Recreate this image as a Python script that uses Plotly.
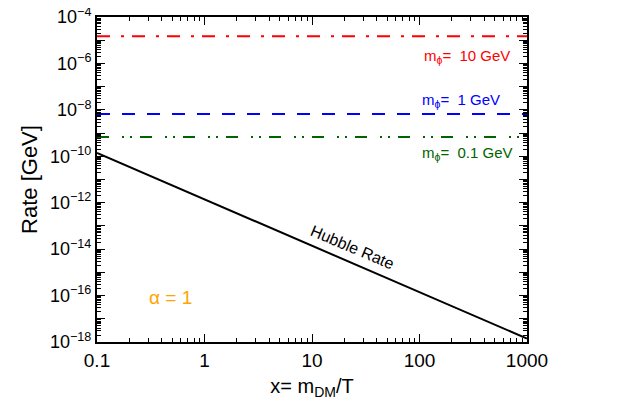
import plotly.graph_objects as go

x_const = [0.1, 1000]
rate_10GeV = [1.5e-5, 1.5e-5]
rate_1GeV = [6.6e-9, 6.6e-9]
rate_01GeV = [6.7e-10, 6.7e-10]
x_hubble = [0.1, 1, 10, 100, 1000]
rate_hubble = [1.4e-10, 1.4e-12, 1.4e-14, 1.4e-16, 1.4e-18]

x_tickvals = [0.1, 1, 10, 100, 1000]
x_ticktext = ["0.1", "1", "10", "100", "1000"]
y_exponents = list(range(-18, -3))
y_tickvals = [10.0 ** e for e in y_exponents]
y_ticktext = [f"10<sup>−{-e}</sup>" if e % 2 == 0 else "" for e in y_exponents]

x_minor = [m * 10.0 ** e for e in range(-1, 3) for m in range(2, 10)]
y_minor = [m * 10.0 ** e for e in range(-18, -4) for m in range(2, 10)]

fig = go.Figure()
fig.add_trace(go.Scatter(x=x_const, y=rate_10GeV, mode="lines",
                         line=dict(color="#ff0000", width=2, dash="13px,11px,3px,8px")))
fig.add_trace(go.Scatter(x=x_const, y=rate_1GeV, mode="lines",
                         line=dict(color="#0000ff", width=2, dash="13px,12px")))
fig.add_trace(go.Scatter(x=x_const, y=rate_01GeV, mode="lines",
                         line=dict(color="#006400", width=2, dash="12px,13px,2px,6px,2px,8px")))
fig.add_trace(go.Scatter(x=x_hubble, y=rate_hubble, mode="lines",
                         line=dict(color="black", width=2)))

font = "Liberation Sans, Arial, sans-serif"
# page body has an 8px default margin, so the figure is 8px smaller and shifted
fig.update_layout(
    width=614, height=409,
    margin=dict(l=89, r=95, t=9, b=75),
    paper_bgcolor="white", plot_bgcolor="white",
    showlegend=False,
    font=dict(family=font, size=16, color="black"),
    xaxis=dict(type="log", range=[-1, 3], tickmode="array",
               tickvals=x_tickvals, ticktext=x_ticktext,
               ticks="inside", ticklen=8, tickwidth=1, tickcolor="black",
               showline=True, linewidth=2, automargin=False, ticklabeloverflow="allow",
               linecolor="black", mirror="ticks", showgrid=False, zeroline=False,
               minor=dict(tickmode="array", tickvals=x_minor, ticks="inside", ticklen=4,
                          tickwidth=1, tickcolor="black", showgrid=False),
               title=dict(text="x= m<sub>DM</sub>/T", font=dict(size=20), standoff=9),
               tickfont=dict(size=19)),
    yaxis=dict(type="log", range=[-18, -4], tickmode="array",
               tickvals=y_tickvals, ticktext=y_ticktext,
               ticks="inside", ticklen=8, tickwidth=1, tickcolor="black",
               showline=True, linewidth=2, automargin=False, ticklabeloverflow="allow",
               linecolor="black", mirror="ticks", showgrid=False, zeroline=False,
               minor=dict(tickmode="array", tickvals=y_minor, ticks="inside", ticklen=4,
                          tickwidth=1, tickcolor="black", showgrid=False),
               title=dict(text="Rate [GeV]", font=dict(size=22), standoff=6),
               tickfont=dict(size=18)),
)

fig.add_annotation(x=2.44, y=-5.71, xref="x", yref="y",
                   text="m<sub>ϕ</sub>=  10 GeV", showarrow=False,
                   font=dict(color="#ff0000", size=15))
fig.add_annotation(x=2.386, y=-7.58, xref="x", yref="y",
                   text="m<sub>ϕ</sub>=  1 GeV", showarrow=False,
                   font=dict(color="#0000ff", size=15))
fig.add_annotation(x=2.45, y=-9.875, xref="x", yref="y",
                   text="m<sub>ϕ</sub>=  0.1 GeV", showarrow=False,
                   font=dict(color="#006400", size=15))
fig.add_annotation(x=-0.32, y=-16.07, xref="x", yref="y",
                   text="α = 1", showarrow=False,
                   font=dict(color="orange", size=19))
fig.add_annotation(x=1.38, y=-13.91, xref="x", yref="y",
                   text="Hubble Rate", showarrow=False, textangle=23,
                   font=dict(color="black", size=16))

fig.write_html("out.html")
